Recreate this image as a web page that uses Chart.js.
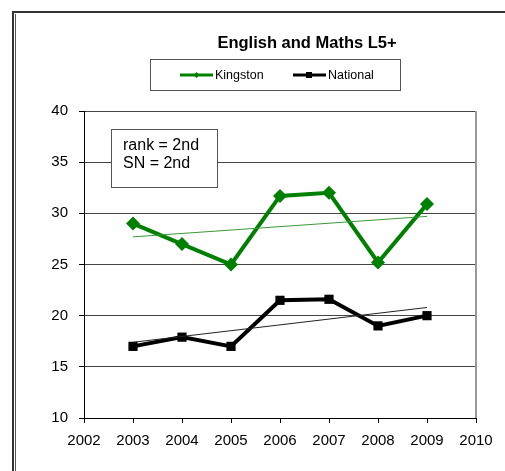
<!DOCTYPE html>
<html>
<head>
<meta charset="utf-8">
<script src="https://cdn.jsdelivr.net/npm/chart.js@4/dist/chart.umd.min.js"></script>
<style>
  html, body { margin: 0; padding: 0; background: #fff; overflow: hidden; }
  #wrap { position: relative; width: 505px; height: 471px; }
</style>
</head>
<body>
<div id="wrap"><canvas id="chart" width="505" height="471"></canvas></div>
<script>
// values
const years = [2003, 2004, 2005, 2006, 2007, 2008, 2009];
const kingston = [29, 27, 25, 31.7, 32, 25.2, 30.9];
const national = [17, 17.9, 17, 21.5, 21.6, 19, 20];
// trend line end points (2003 and 2009)
const trendYears = [2003, 2009];
const kingstonTrend = [27.7, 29.7];
const nationalTrend = [17.4, 20.8];
const titleText = 'English and Maths L5+';
const noteLines = ['rank = 2nd', 'SN = 2nd'];

const GREEN = '#008000';
const FONT = '"Liberation Sans", Arial, sans-serif';

function pts(xs, ys) {
  return xs.map((x, i) => ({ x: x, y: ys[i] }));
}

// frame, title, legend box and note box
const decor = {
  id: 'decor',
  beforeDraw(chart) {
    const c = chart.ctx;
    c.save();
    c.fillStyle = '#fff';
    c.fillRect(0, 0, chart.width, chart.height);
    c.strokeStyle = '#333';
    c.lineWidth = 2;
    c.strokeRect(13, 12, 600, 500);
    c.lineWidth = 1;
    c.strokeStyle = '#555';
    c.beginPath();
    c.moveTo(15.5, 14);
    c.lineTo(15.5, 480);
    c.stroke();
    c.restore();
  },
  afterDraw(chart) {
    const c = chart.ctx;
    const a = chart.chartArea;
    c.save();
    // plot area right border
    c.strokeStyle = '#999';
    c.lineWidth = 2;
    c.beginPath();
    c.moveTo(a.right, a.top);
    c.lineTo(a.right, a.bottom);
    c.stroke();

    // title
    c.fillStyle = '#000';
    c.font = 'bold 16.5px ' + FONT;
    c.textAlign = 'center';
    c.textBaseline = 'middle';
    c.fillText(titleText, 307, 43);

    // legend
    c.strokeStyle = '#555';
    c.lineWidth = 1;
    c.strokeRect(150.5, 59.5, 250, 31);
    c.font = '12.5px ' + FONT;
    c.textAlign = 'left';
    const items = [
      { label: 'Kingston', color: GREEN, x: 180, marker: 'diamond' },
      { label: 'National', color: '#000', x: 293, marker: 'square' }
    ];
    items.forEach(it => {
      const y = 75;
      c.strokeStyle = it.color;
      c.fillStyle = it.color;
      c.lineWidth = 3;
      c.beginPath();
      c.moveTo(it.x, y);
      c.lineTo(it.x + 33, y);
      c.stroke();
      if (it.marker === 'square') {
        c.fillRect(it.x + 13, y - 3, 6, 6);
      } else {
        c.beginPath();
        c.moveTo(it.x + 16.5, y - 3);
        c.lineTo(it.x + 19.5, y);
        c.lineTo(it.x + 16.5, y + 3);
        c.lineTo(it.x + 13.5, y);
        c.closePath();
        c.fill();
      }
      c.fillStyle = '#000';
      c.fillText(it.label, it.x + 35, y + 1);
    });

    // note box
    c.fillStyle = '#fff';
    c.fillRect(111, 129, 106, 58);
    c.strokeStyle = '#555';
    c.lineWidth = 1;
    c.strokeRect(111.5, 129.5, 106, 58);
    c.fillStyle = '#000';
    c.font = '16px ' + FONT;
    noteLines.forEach((t, i) => c.fillText(t, 123, 146 + i * 18));
    c.restore();
  }
};

new Chart(document.getElementById('chart'), {
  type: 'line',
  data: {
    datasets: [
      {
        label: 'Kingston trend',
        data: pts(trendYears, kingstonTrend),
        borderColor: '#3a9a3a',
        borderWidth: 1,
        pointRadius: 0
      },
      {
        label: 'National trend',
        data: pts(trendYears, nationalTrend),
        borderColor: '#222',
        borderWidth: 1,
        pointRadius: 0
      },
      {
        label: 'Kingston',
        data: pts(years, kingston),
        borderColor: GREEN,
        backgroundColor: GREEN,
        borderWidth: 4,
        pointStyle: 'rectRot',
        pointRadius: 7,
        pointBorderWidth: 0
      },
      {
        label: 'National',
        data: pts(years, national),
        borderColor: '#000',
        backgroundColor: '#000',
        borderWidth: 4,
        pointStyle: 'rect',
        pointRadius: 6.5,
        pointBorderWidth: 0
      }
    ]
  },
  options: {
    responsive: false,
    animation: false,
    layout: { padding: { left: 20, right: 29, top: 111, bottom: 13 } },
    plugins: { legend: { display: false }, title: { display: false }, tooltip: { enabled: false } },
    scales: {
      x: {
        type: 'linear',
        min: 2002,
        max: 2010,
        afterFit: s => { s.height = 40; },
        ticks: {
          stepSize: 1,
          color: '#000',
          padding: 9,
          font: { family: FONT, size: 15 },
          callback: v => String(v)
        },
        grid: { drawOnChartArea: false, tickLength: 5, tickColor: '#000' },
        border: { color: '#000', width: 1 }
      },
      y: {
        min: 10,
        max: 40,
        afterFit: s => { s.width = 64; },
        ticks: {
          stepSize: 5,
          color: '#000',
          padding: 11,
          font: { family: FONT, size: 15 }
        },
        grid: { color: '#444', lineWidth: 1, tickLength: 5, tickColor: '#000' },
        border: { color: '#000', width: 1 }
      }
    }
  },
  plugins: [decor]
});
</script>
</body>
</html>
